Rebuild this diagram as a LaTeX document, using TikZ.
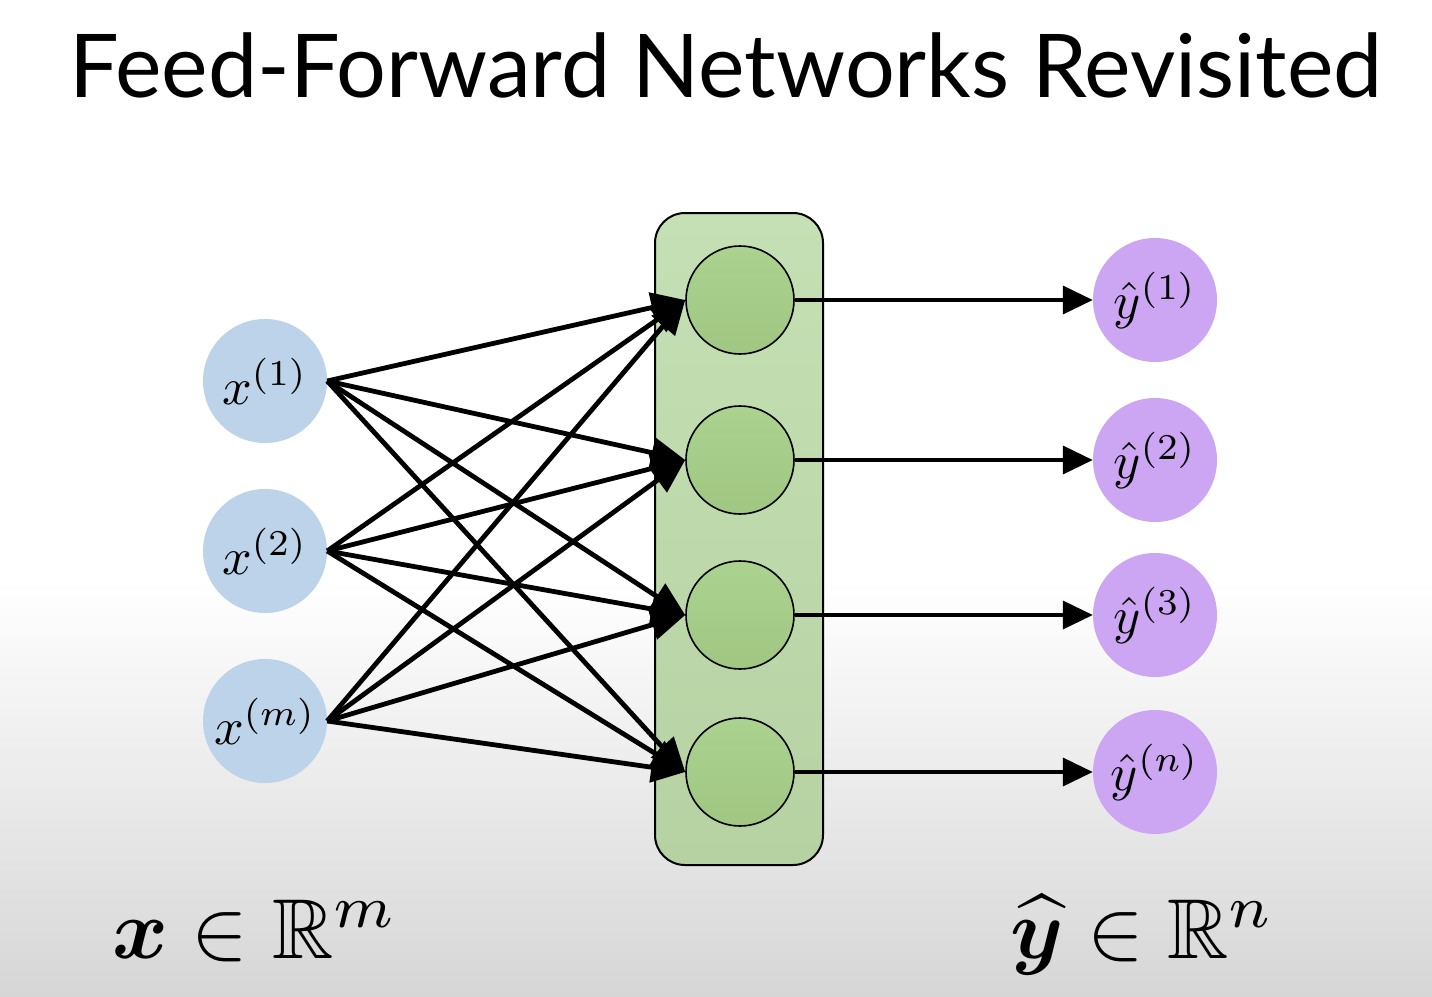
\documentclass[tikz,border=0pt]{standalone}
\usepackage{amsmath,amssymb,bm}
\usepackage{graphicx}
\usepackage{fontspec}
\setmainfont{Lato}
\usetikzlibrary{arrows.meta}
\definecolor{inblue}{RGB}{188,211,233}
\definecolor{outpurple}{RGB}{204,166,242}
\definecolor{boxgreen}{RGB}{197,224,180}
\definecolor{boxgreendark}{RGB}{182,210,163}
\definecolor{hidgreen}{RGB}{172,210,144}
\definecolor{hidgreendark}{RGB}{160,198,130}
\definecolor{bggray}{RGB}{214,214,214}
\newcommand{\mysc}[2]{\scalebox{#1}{$#2$}}
\begin{document}
\begin{tikzpicture}[x=1pt,y=-1pt,
  inp/.style={circle, fill=inblue, minimum size=124pt, inner sep=0pt},
  outp/.style={circle, fill=outpurple, minimum size=124pt, inner sep=0pt},
  hid/.style={circle, draw=black, line width=1.6pt, top color=hidgreen, bottom color=hidgreendark, minimum size=108pt, inner sep=0pt},
  layerbox/.style={draw=black, line width=2pt, rounded corners=30pt, top color=boxgreen, bottom color=boxgreendark, minimum width=168pt, minimum height=652pt, inner sep=0pt},
  edge/.style={line width=4.8pt, -{Triangle[length=34pt,width=30pt]}},
  outedge/.style={line width=3.8pt, -{Triangle[length=30pt,width=28pt]}},
  title/.style={font=\fontsize{88}{94}\selectfont},
  biglabel/.style={inner sep=0pt}
]
\useasboundingbox (0,0) rectangle (1432,996);
\fill[white] (0,0) rectangle (1432,996);
\shade[top color=white, bottom color=bggray] (0,580) rectangle (1432,996);

\node[title, anchor=base] (ttl) at (726,97) {Feed-Forward Networks Revisited};

\node[layerbox] (layer) at (739,539) {};

\node[inp] (x1) at (265,381) {\mysc{5.2}{x^{(1)}}};
\node[inp] (x2) at (265,551) {\mysc{5.2}{x^{(2)}}};
\node[inp] (x3) at (265,721) {\mysc{5.2}{x^{(m)}}};

\node[hid] (h1) at (740,300) {};
\node[hid] (h2) at (740,460) {};
\node[hid] (h3) at (740,615) {};
\node[hid] (h4) at (740,772) {};

\node[outp] (o1) at (1155,300) {\mysc{5.2}{\hat{y}^{(1)}}};
\node[outp] (o2) at (1155,460) {\mysc{5.2}{\hat{y}^{(2)}}};
\node[outp] (o3) at (1155,615) {\mysc{5.2}{\hat{y}^{(3)}}};
\node[outp] (o4) at (1155,772) {\mysc{5.2}{\hat{y}^{(n)}}};

\foreach \i in {x1,x2,x3}{
  \foreach \j in {h1,h2,h3,h4}{
    \draw[edge] (\i.east) -- (\j.west);
  }
}
\foreach \j/\k in {h1/o1,h2/o2,h3/o3,h4/o4}{
  \draw[outedge] (\j.east) -- (\k.west);
}

\node[biglabel, anchor=base west] (xlab) at (112,958) {\mysc{8.5}{\bm{x}\in\mathbb{R}^{m}}};
\node[biglabel, anchor=base west] (ylab) at (1010,958) {\mysc{8.5}{\widehat{\bm{y}}\in\mathbb{R}^{n}}};
\end{tikzpicture}
\end{document}
